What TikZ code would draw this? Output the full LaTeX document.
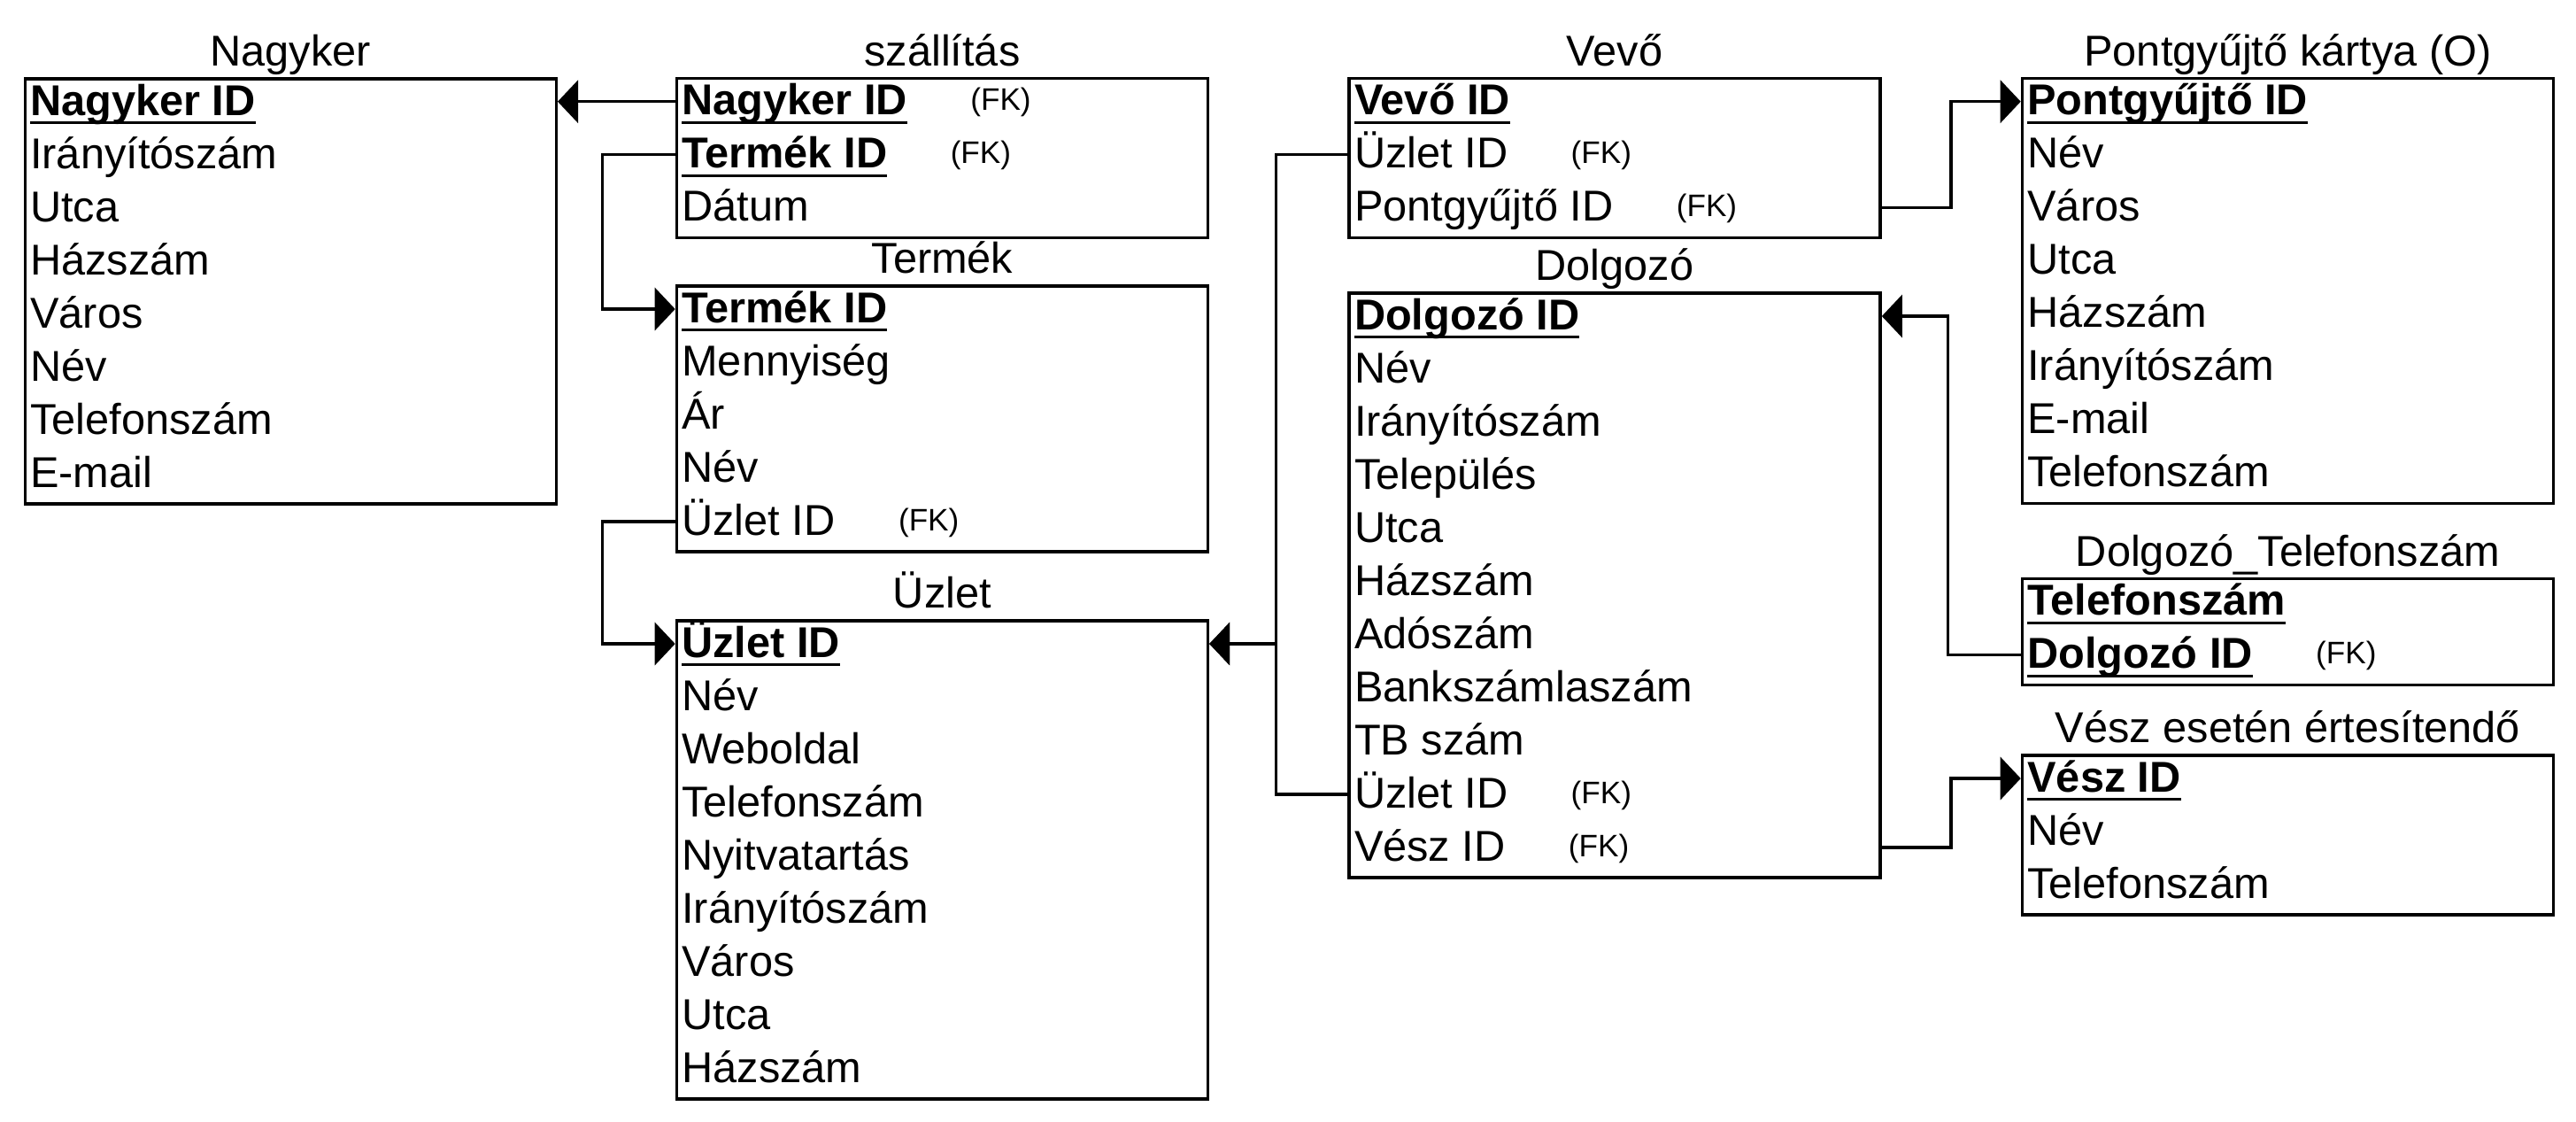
\documentclass[tikz,border=0pt]{standalone}
\usepackage{fontspec}
\setmainfont{Liberation Sans}
\usetikzlibrary{arrows.meta}

\newcommand\attrfont{\fontsize{13.86}{16}\selectfont}
\newcommand\fkfont{\fontsize{10}{12}\selectfont}
\newcommand\pk[1]{\setbox0\hbox{\bfseries #1}\rlap{\rule[-0.104cm]{\wd0}{0.032cm}}\box0}

\tikzset{
  tbl/.style={draw, line width=0.035cm, minimum width=6cm, anchor=north west, inner sep=0pt},
  ttl/.style={anchor=base, inner sep=0pt, font=\attrfont},
  attr/.style={anchor=base west, inner sep=0pt, text height=0.4cm, text depth=0.1cm, font=\attrfont},
  fkey/.style={anchor=base west, inner sep=0pt, font=\fkfont},
  fk/.style={line width=0.035cm, -{Triangle[length=0.23cm, width=0.48cm]}}
}

\begin{document}
\begin{tikzpicture}
  \fill[white] (0, 0) rectangle (29.10, -12.66);

  % Nagyker
  \node[tbl, minimum height=4.8cm] (nagyker) at (0.265, -0.87) {};
  \node[ttl] (nagyker-t) at ([yshift=0.125cm]nagyker.north) {Nagyker};
  \node[attr] (nk1) at ([shift={(0.07,-0.43)}]nagyker.north west) {\pk{Nagyker ID}};
  \node[attr] (nk2) at ([shift={(0.07,-1.03)}]nagyker.north west) {Irányítószám};
  \node[attr] (nk3) at ([shift={(0.07,-1.63)}]nagyker.north west) {Utca};
  \node[attr] (nk4) at ([shift={(0.07,-2.23)}]nagyker.north west) {Házszám};
  \node[attr] (nk5) at ([shift={(0.07,-2.83)}]nagyker.north west) {Város};
  \node[attr] (nk6) at ([shift={(0.07,-3.43)}]nagyker.north west) {Név};
  \node[attr] (nk7) at ([shift={(0.07,-4.03)}]nagyker.north west) {Telefonszám};
  \node[attr] (nk8) at ([shift={(0.07,-4.63)}]nagyker.north west) {E-mail};

  % szállítás
  \node[tbl, minimum height=1.8cm] (szall) at (7.627, -0.867) {};
  \node[ttl] (szall-t) at ([yshift=0.125cm]szall.north) {szállítás};
  \node[attr] (sz1) at ([shift={(0.07,-0.43)}]szall.north west) {\pk{Nagyker ID}};
  \node[attr] (sz2) at ([shift={(0.07,-1.03)}]szall.north west) {\pk{Termék ID}};
  \node[attr] (sz3) at ([shift={(0.07,-1.63)}]szall.north west) {Dátum};
  \node[fkey] (sz1k) at ([shift={(0.7,0.05)}]sz1.base east) {(FK)};
  \node[fkey] (sz2k) at ([shift={(0.7,0.05)}]sz2.base east) {(FK)};

  % Termék
  \node[tbl, minimum height=3cm] (termek) at (7.627, -3.21) {};
  \node[ttl] (termek-t) at ([yshift=0.125cm]termek.north) {Termék};
  \node[attr] (tm1) at ([shift={(0.07,-0.43)}]termek.north west) {\pk{Termék ID}};
  \node[attr] (tm2) at ([shift={(0.07,-1.03)}]termek.north west) {Mennyiség};
  \node[attr] (tm3) at ([shift={(0.07,-1.63)}]termek.north west) {Ár};
  \node[attr] (tm4) at ([shift={(0.07,-2.23)}]termek.north west) {Név};
  \node[attr] (tm5) at ([shift={(0.07,-2.83)}]termek.north west) {Üzlet ID};
  \node[fkey] (tm5k) at ([shift={(0.7,0.05)}]tm5.base east) {(FK)};

  % Üzlet
  \node[tbl, minimum height=5.4cm] (uzlet) at (7.627, -6.99) {};
  \node[ttl] (uzlet-t) at ([yshift=0.125cm]uzlet.north) {Üzlet};
  \node[attr] (uz1) at ([shift={(0.07,-0.43)}]uzlet.north west) {\pk{Üzlet ID}};
  \node[attr] (uz2) at ([shift={(0.07,-1.03)}]uzlet.north west) {Név};
  \node[attr] (uz3) at ([shift={(0.07,-1.63)}]uzlet.north west) {Weboldal};
  \node[attr] (uz4) at ([shift={(0.07,-2.23)}]uzlet.north west) {Telefonszám};
  \node[attr] (uz5) at ([shift={(0.07,-2.83)}]uzlet.north west) {Nyitvatartás};
  \node[attr] (uz6) at ([shift={(0.07,-3.43)}]uzlet.north west) {Irányítószám};
  \node[attr] (uz7) at ([shift={(0.07,-4.03)}]uzlet.north west) {Város};
  \node[attr] (uz8) at ([shift={(0.07,-4.63)}]uzlet.north west) {Utca};
  \node[attr] (uz9) at ([shift={(0.07,-5.23)}]uzlet.north west) {Házszám};

  % Vevő
  \node[tbl, minimum height=1.8cm] (vevo) at (15.223, -0.867) {};
  \node[ttl] (vevo-t) at ([yshift=0.125cm]vevo.north) {Vevő};
  \node[attr] (ve1) at ([shift={(0.07,-0.43)}]vevo.north west) {\pk{Vevő ID}};
  \node[attr] (ve2) at ([shift={(0.07,-1.03)}]vevo.north west) {Üzlet ID};
  \node[attr] (ve3) at ([shift={(0.07,-1.63)}]vevo.north west) {Pontgyűjtő ID};
  \node[fkey] (ve2k) at ([shift={(0.7,0.05)}]ve2.base east) {(FK)};
  \node[fkey] (ve3k) at ([shift={(0.7,0.05)}]ve3.base east) {(FK)};

  % Dolgozó
  \node[tbl, minimum height=6.6cm] (dolgozo) at (15.223, -3.29) {};
  \node[ttl] (dolgozo-t) at ([yshift=0.125cm]dolgozo.north) {Dolgozó};
  \node[attr] (do1) at ([shift={(0.07,-0.43)}]dolgozo.north west) {\pk{Dolgozó ID}};
  \node[attr] (do2) at ([shift={(0.07,-1.03)}]dolgozo.north west) {Név};
  \node[attr] (do3) at ([shift={(0.07,-1.63)}]dolgozo.north west) {Irányítószám};
  \node[attr] (do4) at ([shift={(0.07,-2.23)}]dolgozo.north west) {Település};
  \node[attr] (do5) at ([shift={(0.07,-2.83)}]dolgozo.north west) {Utca};
  \node[attr] (do6) at ([shift={(0.07,-3.43)}]dolgozo.north west) {Házszám};
  \node[attr] (do7) at ([shift={(0.07,-4.03)}]dolgozo.north west) {Adószám};
  \node[attr] (do8) at ([shift={(0.07,-4.63)}]dolgozo.north west) {Bankszámlaszám};
  \node[attr] (do9) at ([shift={(0.07,-5.23)}]dolgozo.north west) {TB szám};
  \node[attr] (do10) at ([shift={(0.07,-5.83)}]dolgozo.north west) {Üzlet ID};
  \node[attr] (do11) at ([shift={(0.07,-6.43)}]dolgozo.north west) {Vész ID};
  \node[fkey] (do10k) at ([shift={(0.7,0.05)}]do10.base east) {(FK)};
  \node[fkey] (do11k) at ([shift={(0.7,0.05)}]do11.base east) {(FK)};

  % Pontgyűjtő kártya
  \node[tbl, minimum height=4.8cm] (pont) at (22.827, -0.867) {};
  \node[ttl] (pont-t) at ([yshift=0.125cm]pont.north) {Pontgyűjtő kártya (O)};
  \node[attr] (po1) at ([shift={(0.07,-0.43)}]pont.north west) {\pk{Pontgyűjtő ID}};
  \node[attr] (po2) at ([shift={(0.07,-1.03)}]pont.north west) {Név};
  \node[attr] (po3) at ([shift={(0.07,-1.63)}]pont.north west) {Város};
  \node[attr] (po4) at ([shift={(0.07,-2.23)}]pont.north west) {Utca};
  \node[attr] (po5) at ([shift={(0.07,-2.83)}]pont.north west) {Házszám};
  \node[attr] (po6) at ([shift={(0.07,-3.43)}]pont.north west) {Irányítószám};
  \node[attr] (po7) at ([shift={(0.07,-4.03)}]pont.north west) {E-mail};
  \node[attr] (po8) at ([shift={(0.07,-4.63)}]pont.north west) {Telefonszám};

  % Dolgozó_Telefonszám
  \node[tbl, minimum height=1.2cm] (dtel) at (22.827, -6.517) {};
  \node[ttl] (dtel-t) at ([yshift=0.125cm]dtel.north) {Dolgozó\_Telefonszám};
  \node[attr] (dt1) at ([shift={(0.07,-0.43)}]dtel.north west) {\pk{Telefonszám}};
  \node[attr] (dt2) at ([shift={(0.07,-1.03)}]dtel.north west) {\pk{Dolgozó ID}};
  \node[fkey] (dt2k) at ([shift={(0.7,0.05)}]dt2.base east) {(FK)};

  % Vész esetén értesítendő
  \node[tbl, minimum height=1.8cm] (vesz) at (22.827, -8.51) {};
  \node[ttl] (vesz-t) at ([yshift=0.125cm]vesz.north) {Vész esetén értesítendő};
  \node[attr] (vs1) at ([shift={(0.07,-0.43)}]vesz.north west) {\pk{Vész ID}};
  \node[attr] (vs2) at ([shift={(0.07,-1.03)}]vesz.north west) {Név};
  \node[attr] (vs3) at ([shift={(0.07,-1.63)}]vesz.north west) {Telefonszám};

  % kapcsolatok
  \draw[fk] (szall.west |- sz1) -- (nagyker.east |- sz1);
  \draw[fk] (szall.west |- sz2) -- ++(-0.82, 0) |- (termek.west |- tm1);
  \draw[fk] (termek.west |- tm5) -- ++(-0.82, 0) |- (uzlet.west |- uz1);
  \draw[fk] (vevo.west |- ve2) -- ++(-0.81, 0) |- (uzlet.east |- uz1);
  \draw[fk] (dolgozo.west |- do10) -- ++(-0.81, 0) |- (uzlet.east |- uz1);
  \draw[fk] (vevo.east |- ve3) -- ++(0.78, 0) |- (pont.west |- po1);
  \draw[fk] (dtel.west |- dt2) -- ++(-0.82, 0) |- (dolgozo.east |- do1);
  \draw[fk] (dolgozo.east |- do11) -- ++(0.78, 0) |- (vesz.west |- vs1);
\end{tikzpicture}
\end{document}
